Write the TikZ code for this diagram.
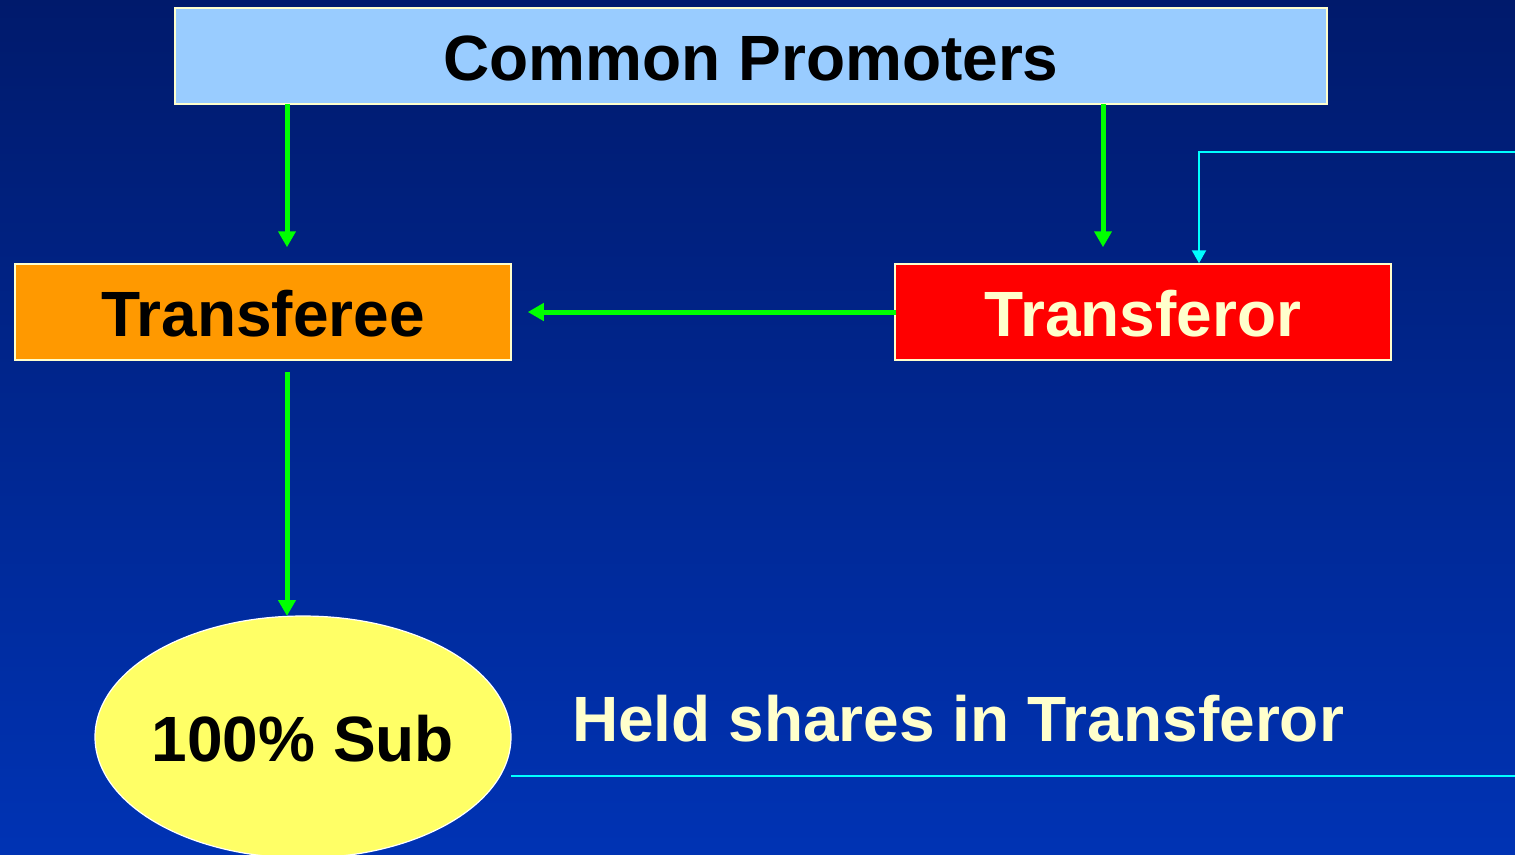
\documentclass[tikz,border=0pt]{standalone}
\usepackage{fontspec}
\setmainfont{Liberation Sans}
\usetikzlibrary{arrows.meta,shapes.geometric}
\definecolor{bgtop}{HTML}{001A6C}
\definecolor{bgbot}{HTML}{0033B4}
\definecolor{boxblue}{HTML}{99CCFF}
\definecolor{boxorange}{HTML}{FF9900}
\definecolor{cream}{HTML}{FFFFCC}
\definecolor{subyellow}{HTML}{FFFF66}
\definecolor{arrgreen}{HTML}{00FF00}
\definecolor{arrcyan}{HTML}{00FFFF}
\tikzset{
  bigtext/.style={font=\fontsize{64}{72}\selectfont\bfseries},
  boxnode/.style={draw=cream, line width=1.5pt, minimum height=96pt, inner sep=0pt, text height=48pt, text depth=0pt, bigtext},
  greenarrow/.style={draw=arrgreen, line width=5pt, -{Triangle[width=17pt,length=16pt]}},
  cyanline/.style={draw=arrcyan, line width=2.2pt},
  cyanarrow/.style={cyanline, -{Triangle[width=14pt,length=13pt]}},
}
\begin{document}
\begin{tikzpicture}[x=1pt,y=-1pt]
\useasboundingbox (0,0) rectangle (1515,854);
\shade[top color=bgtop, bottom color=bgbot] (0,0) rectangle (1515,854);
\node[boxnode, fill=boxblue, minimum width=1152pt, text=black] (cp) at (751,56) {Common Promoters};
\node[boxnode, fill=boxorange, minimum width=496pt, text=black] (tee) at (263,312) {Transferee};
\node[boxnode, fill=red, minimum width=496pt, text=cream] (tor) at (1143,312) {Transferor};
\node[ellipse, draw=white, line width=1.2pt, fill=subyellow, minimum width=416pt, minimum height=242pt, inner sep=0pt, outer sep=0pt] (sub) at (303,737) {};
\node[inner sep=0pt, text height=48pt, text depth=0pt, bigtext] (sublabel) at (sub.center) {100\% Sub};
\node[text=cream, inner sep=0pt, text height=48pt, text depth=0pt, bigtext] (held) at (958,717) {Held shares in Transferor};
% green arrows
\coordinate (a1) at (287,104);
\coordinate (a2) at (1103,104);
\coordinate (a3) at (287,372);
\draw[greenarrow, shorten >=16pt] (a1) -- (a1 |- tee.north);
\draw[greenarrow, shorten >=16pt] (a2) -- (a2 |- tor.north);
\draw[greenarrow] (a3) -- (a3 |- sub.north);
\draw[greenarrow, shorten >=16pt] ([xshift=2pt]tor.west) -- (tee.east);
% cyan connector (runs off the right edge)
\coordinate (r1) at (1530,776);
\coordinate (r2) at (1530,152);
\coordinate (c3) at (1199,152);
\draw[cyanline] (sub.east |- r1) -- (r1);
\draw[cyanarrow] (r2) -- (c3) -- (c3 |- tor.north);
\end{tikzpicture}
\end{document}
